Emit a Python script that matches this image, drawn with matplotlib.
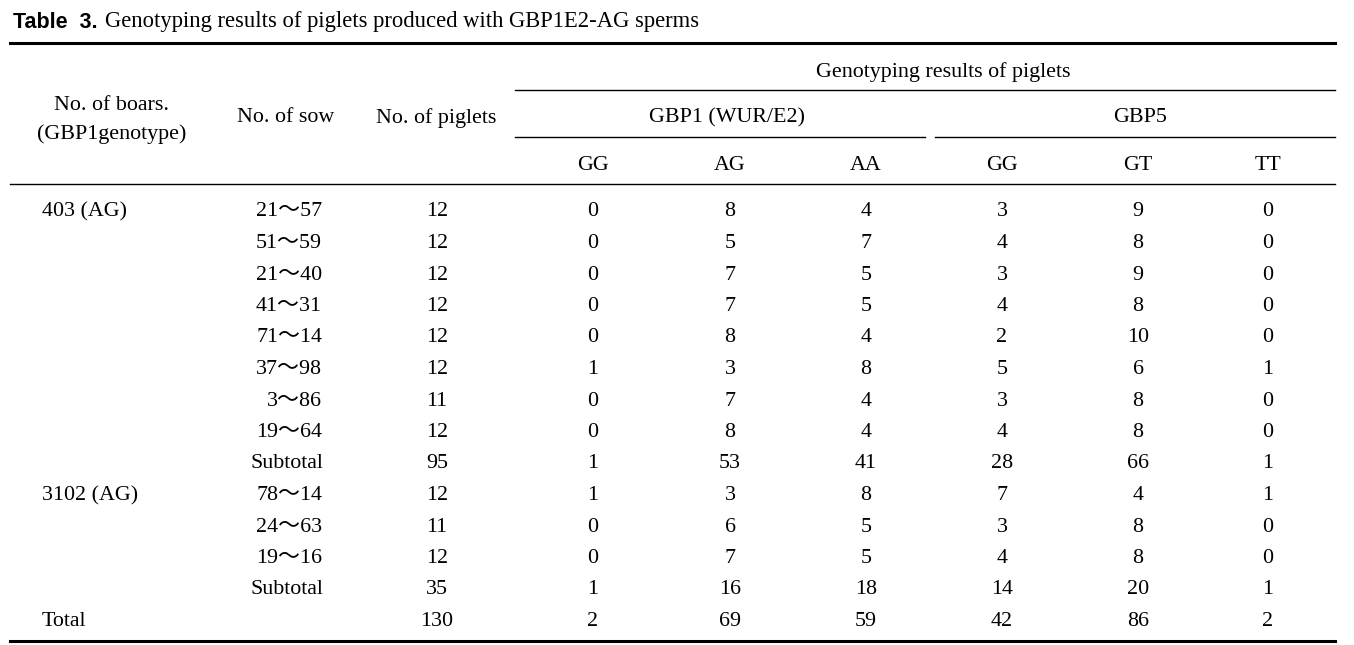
import matplotlib.pyplot as plt

# table data
boars = ["403 (AG)", "", "", "", "", "", "", "", "", "3102 (AG)", "", "", "", "Total"]
sows = ["21～57", "51～59", "21～40", "41～31", "71～14", "37～98", "3～86", "19～64",
        "Subtotal", "78～14", "24～63", "19～16", "Subtotal", ""]
piglets = [12, 12, 12, 12, 12, 12, 11, 12, 95, 12, 11, 12, 35, 130]
gbp1_gg = [0, 0, 0, 0, 0, 1, 0, 0, 1, 1, 0, 0, 1, 2]
gbp1_ag = [8, 5, 7, 7, 8, 3, 7, 8, 53, 3, 6, 7, 16, 69]
gbp1_aa = [4, 7, 5, 5, 4, 8, 4, 4, 41, 8, 5, 5, 18, 59]
gbp5_gg = [3, 4, 3, 4, 2, 5, 3, 4, 28, 7, 3, 4, 14, 42]
gbp5_gt = [9, 8, 9, 8, 10, 6, 8, 8, 66, 4, 8, 8, 20, 86]
gbp5_tt = [0, 0, 0, 0, 0, 1, 0, 0, 1, 1, 0, 0, 1, 2]
geno_labels = ["GG", "AG", "AA", "GG", "GT", "TT"]

W, H = 1354, 645
fig = plt.figure(figsize=(W / 100, H / 100), dpi=100)
ax = fig.add_axes([0, 0, 1, 1])
ax.set_xlim(0, W)
ax.set_ylim(H, 0)
ax.axis("off")

serif = ["Liberation Serif", "Noto Sans CJK JP", "DejaVu Sans"]
fs = 15.8
dy = 3  # baseline nudge

def txt(x, y, s, ha="center", **kw):
    ax.text(x, y + dy, s, ha=ha, va="center", family=serif, fontsize=fs, **kw)

# caption
ax.text(13, 22, "Table  3.", ha="left", va="center", family="Liberation Sans",
        fontweight="bold", fontsize=15.5)
ax.text(105, 22, "Genotyping results of piglets produced with GBP1E2-AG sperms",
        ha="left", va="center", family=serif, fontsize=16.3)

# rules
ax.plot([10, 1335], [43, 43], color="black", lw=2.2)
ax.plot([515, 1335], [90, 90], color="black", lw=1.0)
ax.plot([515, 925], [137, 137], color="black", lw=1.0)
ax.plot([935, 1335], [137, 137], color="black", lw=1.0)
ax.plot([10, 1335], [184, 184], color="black", lw=1.0)
ax.plot([10, 1335], [641, 641], color="black", lw=2.2)

# header
txt(112, 103, "No. of boars.")
txt(112, 131, "(GBP1genotype)")
txt(286, 115, "No. of sow")
txt(436, 115, "No. of piglets")
txt(943, 69, "Genotyping results of piglets")
txt(727, 115, "GBP1 (WUR/E2)")
txt(1140, 115, "GBP5")
col_x = [593, 730, 866, 1002, 1138, 1268]
for x, lab in zip(col_x, geno_labels):
    txt(x, 162, lab)

# body
cols = [gbp1_gg, gbp1_ag, gbp1_aa, gbp5_gg, gbp5_gt, gbp5_tt]
for i in range(len(piglets)):
    y = 209 + i * 31.5
    if boars[i]:
        txt(42, y, boars[i], ha="left")
    if sows[i] == "Subtotal":
        txt(287, y, sows[i])
    elif sows[i]:
        txt(322, y, sows[i], ha="right")
    txt(437, y, str(piglets[i]))
    for x, c in zip(col_x, cols):
        txt(x, y, str(c[i]))

fig.savefig("out.png", dpi=100)
